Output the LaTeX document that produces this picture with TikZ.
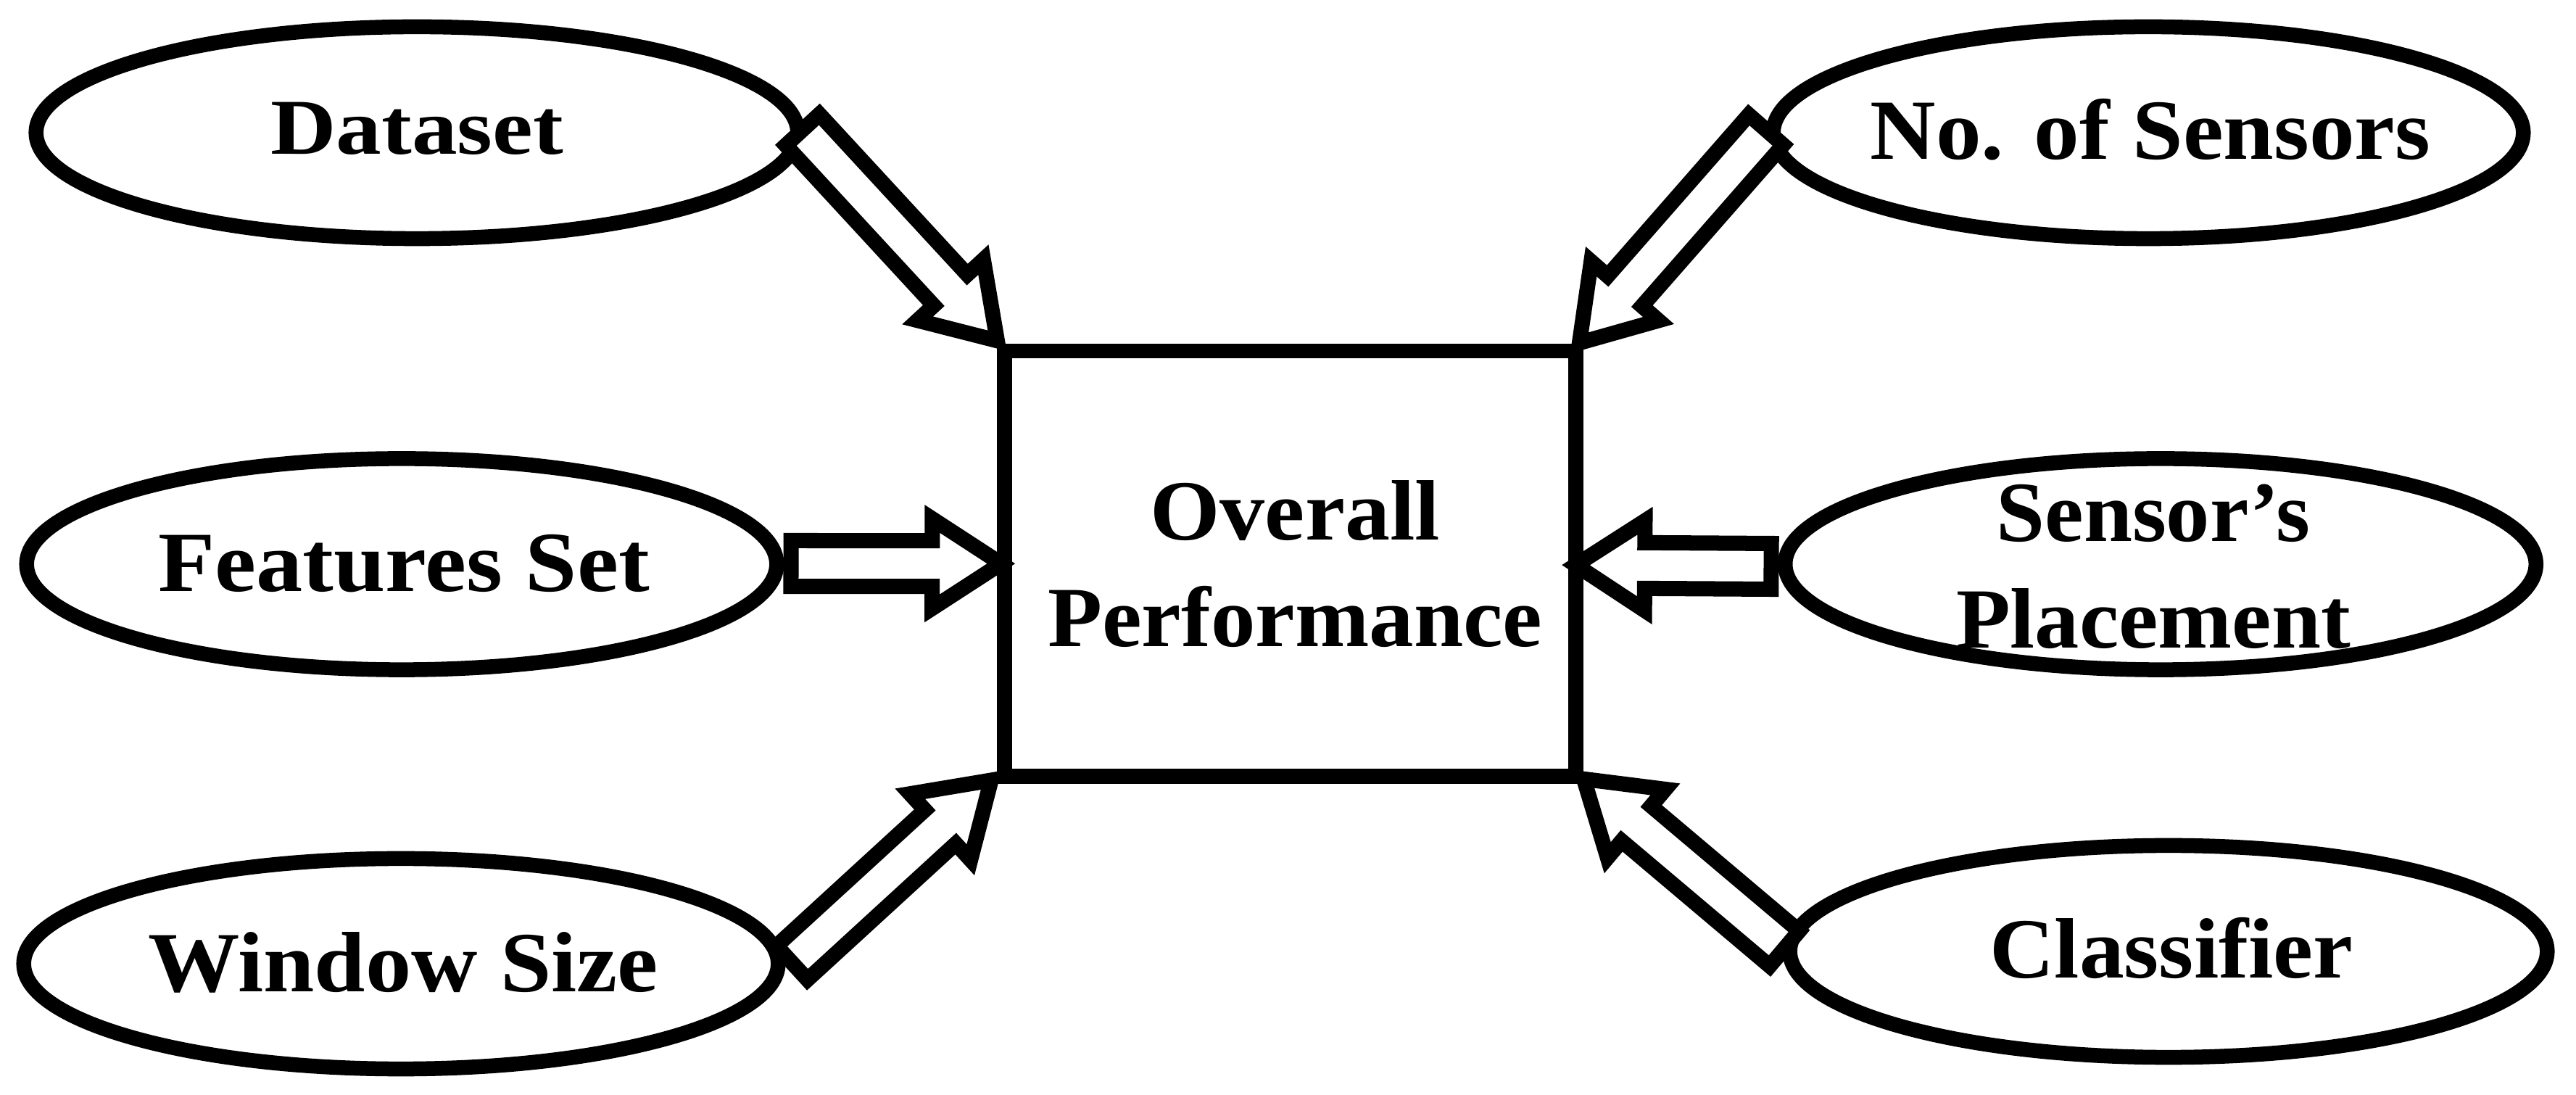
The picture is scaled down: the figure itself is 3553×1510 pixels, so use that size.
\documentclass[tikz,border=0pt]{standalone}
\usepackage{fontspec}
\usepackage{graphicx}
\setmainfont{Liberation Serif}
\usetikzlibrary{shapes.geometric,calc}
\newcommand\hs[2]{\scalebox{#1}[1]{#2}}
\newcommand\blockarrow[2]{%
  \coordinate (ba) at ($(#2)!0.95cm!(#1)$);
  \draw[barrow] ($(#1)!0.315cm!90:(#2)$) -- ($(ba)!0.315cm!90:(#2)$) -- ($(ba)!0.617cm!90:(#2)$) -- (#2)
     -- ($(ba)!0.617cm!-90:(#2)$) -- ($(ba)!0.315cm!-90:(#2)$) -- ($(#1)!0.315cm!-90:(#2)$) -- cycle;}
\begin{document}
\begin{tikzpicture}[x=0.01cm,y=-0.01cm,
  ell/.style={draw, line width=0.205cm, ellipse, inner sep=0pt, outer sep=0pt},
  lbl/.style={font=\fontsize{33.6}{41.8}\selectfont\bfseries, inner sep=0pt, align=center},
  barrow/.style={draw, fill=white, line width=0.21cm, line join=miter, miter limit=10},
  boxst/.style={draw, line width=0.205cm, rectangle, inner sep=0pt, outer sep=0pt,
     minimum width=7.875cm, minimum height=5.865cm}]
\useasboundingbox (0,0) rectangle (3553,1510);
% ellipses
\node[ell, minimum width=10.5cm,  minimum height=2.92cm] (ds) at (575,183) {};
\node[ell, minimum width=10.34cm, minimum height=2.91cm] (fs) at (554,778) {};
\node[ell, minimum width=10.4cm,  minimum height=2.9cm]  (ws) at (553,1329) {};
\node[ell, minimum width=10.34cm, minimum height=2.92cm] (ns) at (2963,183) {};
\node[ell, minimum width=10.35cm, minimum height=2.91cm] (sp) at (2980,778) {};
\node[ell, minimum width=10.44cm, minimum height=2.92cm] (cl) at (2991,1312) {};
% labels
\node[lbl, anchor=base, font=\fontsize{31}{38}\selectfont\bfseries] (dst) at ($(ds.center)+(0,30)$) {\hs{1.15}{Dataset}};
\node[lbl, anchor=base] (fst) at ($(fs.center)+(3,38)$) {\hs{1.085}{Features Set}};
\node[lbl, anchor=base] (wst) at ($(ws.center)+(3,39)$) {\hs{1.07}{Window Size}};
\node[lbl, anchor=base] (nst) at ($(ns.center)+(3,37)$) {\hs{1.06}{No. of Sensors}};
\node[lbl] (spt) at ($(sp.center)+(-10,3)$) {\hs{1.02}{Sensor’s}\\\hs{1.036}{Placement}};
\node[lbl, anchor=base] (clt) at ($(cl.center)+(4,36.3)$) {\hs{1.046}{Classifier}};
% box
\node[boxst] (box) at (1779.25,777.25) {};
\node[lbl] (ovt) at ($(box.center)+(7,0)$) {\hs{1.05}{Overall}\\\hs{1.04}{Performance}};
% arrow ends
\coordinate (h1) at ($(box.north west)+(-9.8,-14)$);
\coordinate (h2) at ($(box.north east)+(5.2,-11)$);
\coordinate (h3) at ($(box.west)+(-4.5,0)$);
\coordinate (h4) at ($(box.south west)+(-18.2,5.3)$);
\coordinate (h5) at ($(box.east)+(0.3,2)$);
\coordinate (h6) at ($(box.south east)+(11.2,3.6)$);
\coordinate (t1) at ($(ds.center)+(532,-4)$);
\coordinate (t2) at ($(ns.center)+(-527.2,-3.9)$);
\coordinate (t3) at ($(fs.center)+(537,-1)$);
\coordinate (t4) at ($(ws.center)+(539.4,-1.4)$);
\coordinate (t5) at ($(sp.center)+(-537,3)$);
\coordinate (t6) at ($(cl.center)+(-529.8,-4)$);
% arrows
\blockarrow{t1}{h1}
\blockarrow{t2}{h2}
\blockarrow{t3}{h3}
\blockarrow{t4}{h4}
\blockarrow{t5}{h5}
\blockarrow{t6}{h6}
% box border on top of the arrow tips
\draw[line width=0.205cm] (box.north west) rectangle (box.south east);
\end{tikzpicture}
\end{document}
